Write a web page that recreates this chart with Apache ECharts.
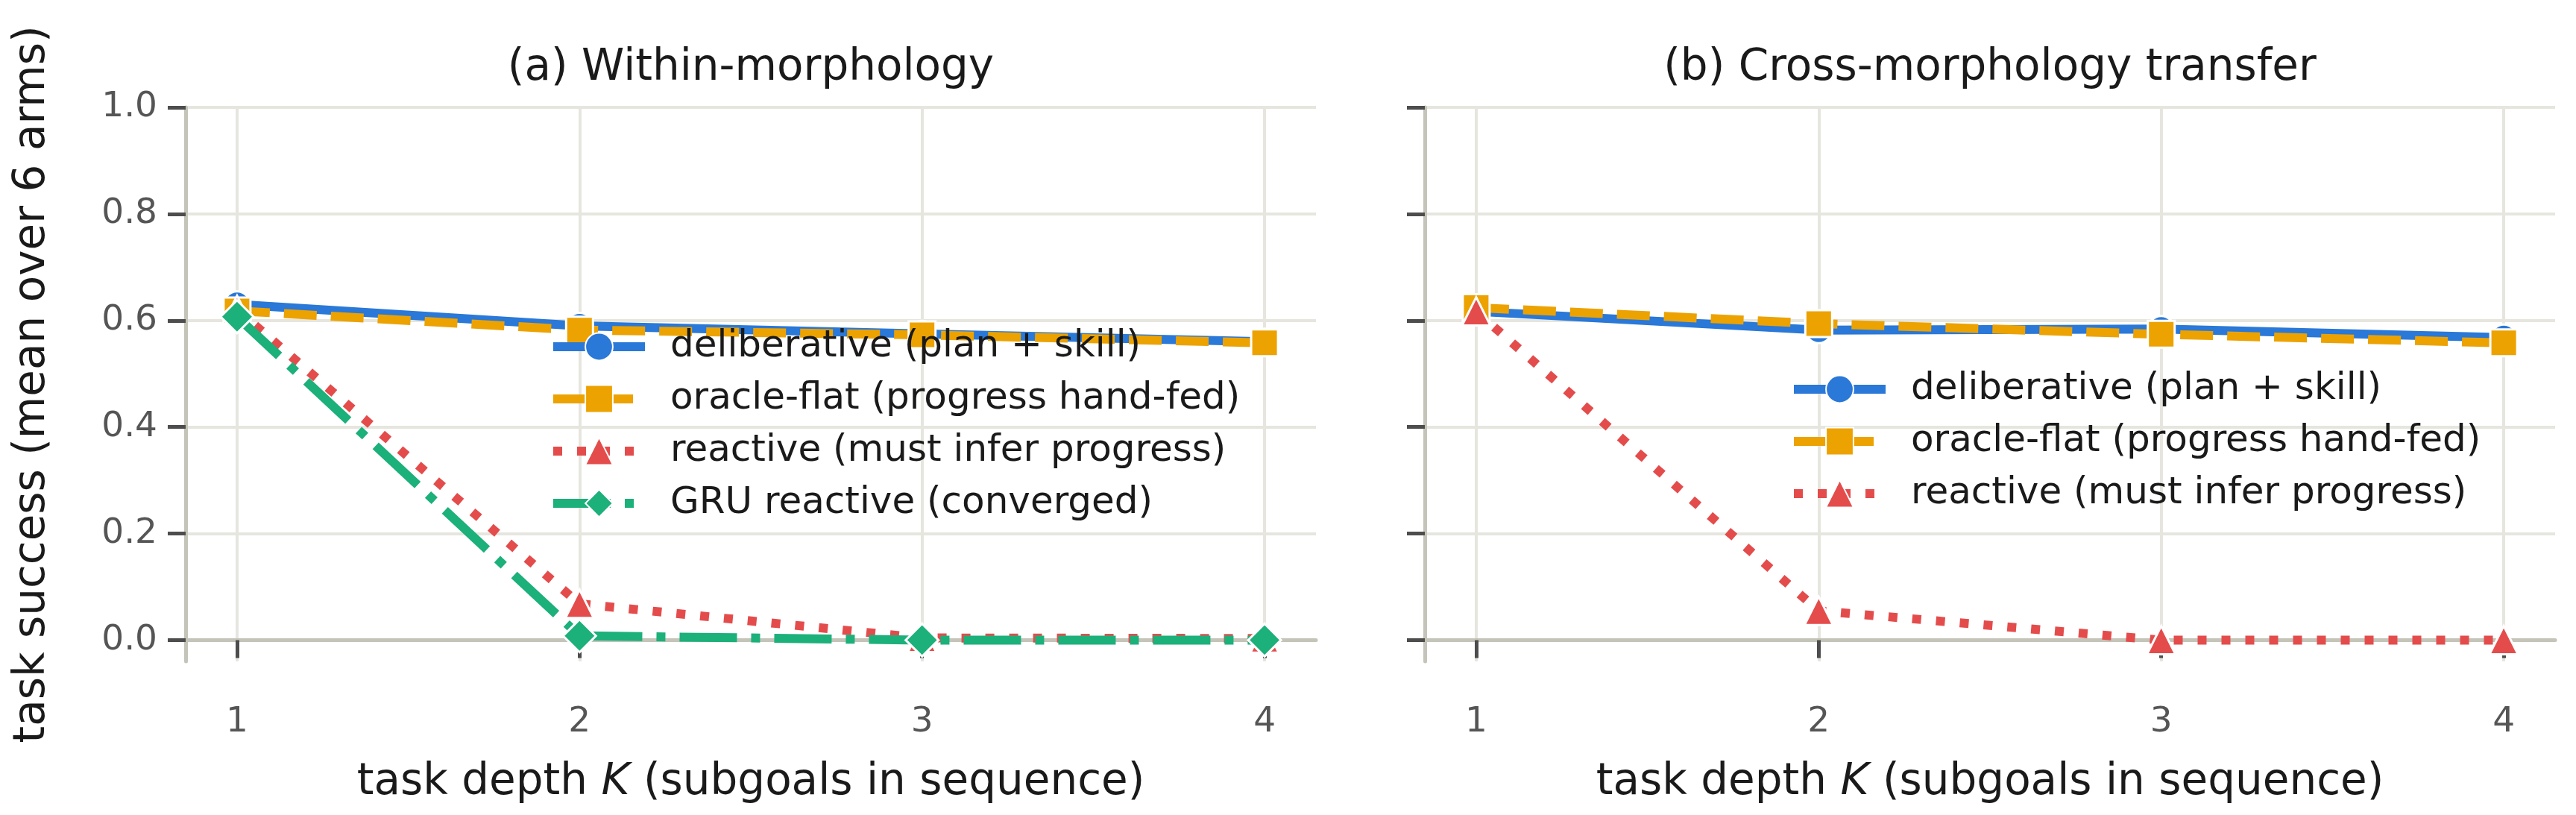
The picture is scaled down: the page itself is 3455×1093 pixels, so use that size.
<!DOCTYPE html>
<html>
<head>
<meta charset="utf-8">
<script src="https://cdn.jsdelivr.net/npm/echarts@6/dist/echarts.min.js"></script>
<style>
  html, body { margin: 0; padding: 0; background: #ffffff; }
  #chart { width: 3455px; height: 1093px; }
</style>
</head>
<body>
<div id="chart"></div>
<script>
// ---- data ----
const K = [1, 2, 3, 4];
const xTicks = [1, 2, 3, 4];
const yTicks = [0.0, 0.2, 0.4, 0.6, 0.8, 1.0];

// (a) Within-morphology
const deliberativeA = [0.630, 0.590, 0.575, 0.560];
const oracleA       = [0.618, 0.582, 0.573, 0.558];
const reactiveA     = [0.620, 0.068, 0.004, 0.003];
const gruA          = [0.607, 0.008, 0.000, 0.000];

// (b) Cross-morphology transfer
const deliberativeB = [0.617, 0.582, 0.584, 0.568];
const oracleB       = [0.624, 0.594, 0.574, 0.558];
const reactiveB     = [0.617, 0.055, 0.000, 0.000];

const titles = ['(a) Within-morphology', '(b) Cross-morphology transfer'];
const names = {
  del: 'deliberative (plan + skill)',
  ora: 'oracle-flat (progress hand-fed)',
  rea: 'reactive (must infer progress)',
  gru: 'GRU reactive (converged)'
};

// ---- styling ----
const FONT = 'DejaVu Sans';
const C = { del: '#2a78d7', ora: '#eca200', rea: '#e44c4c', gru: '#1cb07a' };
const LW = 12;
const spine = '#c4c4b8';
const gridCol = '#e6e6df';
const tickCol = '#4d4d4d';

const pts = (vals) => K.map((k, i) => [k, vals[i]]);

const SPEC = {
  del: { sym: 'circle', size: 35, dash: 'solid', z: 2 },
  ora: { sym: 'rect', size: 36, dash: [44, 19], z: 3 },
  rea: { sym: 'triangle', size: 38, dash: [12, 20], z: 4 },
  gru: { sym: 'diamond', size: 44, dash: [77, 19, 12, 19], z: 5 }
};

function mkSeries(key, vals, gi) {
  const spec = SPEC[key];
  return {
    name: names[key],
    type: 'line',
    xAxisIndex: gi, yAxisIndex: gi,
    data: pts(vals),
    symbol: spec.sym,
    symbolSize: spec.size,
    showAllSymbol: true,
    lineStyle: { color: C[key], width: LW, type: spec.dash, cap: 'butt' },
    itemStyle: { color: C[key], borderColor: '#ffffff', borderWidth: 3 },
    emphasis: { disabled: true },
    z: spec.z
  };
}

const grids = [
  { left: 249, top: 144, width: 1516, height: 743 },
  { left: 1911, top: 144, width: 1516, height: 743 }
];

function xAxis(gi) {
  return {
    type: 'value', gridIndex: gi, min: 0.85, max: 4.15,
    name: '{a|task depth }{b|K}{a| (subgoals in sequence)}',
    nameLocation: 'middle', nameGap: 134,
    nameTextStyle: {
      rich: {
        a: { fontFamily: FONT, fontSize: 58, color: '#1a1a1a' },
        b: { fontFamily: FONT, fontSize: 58, color: '#1a1a1a', fontStyle: 'italic' }
      }
    },
    axisLine: { show: true, lineStyle: { color: spine, width: 5 } },
    axisTick: { show: true, customValues: xTicks, length: 24, lineStyle: { color: tickCol, width: 5 } },
    axisLabel: { show: true, customValues: xTicks, margin: 58, fontFamily: FONT, fontSize: 47, color: '#555555',
      formatter: (v) => String(v) },
    splitLine: { show: true, lineStyle: { color: gridCol, width: 4 } }
  };
}

function yAxis(gi) {
  return {
    type: 'value', gridIndex: gi, min: -0.04, max: 1.0,
    name: gi === 0 ? 'task success (mean over 6 arms)' : '',
    nameLocation: 'middle', nameGap: 176,
    nameTextStyle: { fontFamily: FONT, fontSize: 58, color: '#1a1a1a' },
    axisLine: { show: true, lineStyle: { color: spine, width: 5 } },
    axisTick: { show: true, customValues: yTicks, length: 24, lineStyle: { color: tickCol, width: 5 } },
    axisLabel: { show: gi === 0, customValues: yTicks, margin: 38, fontFamily: FONT, fontSize: 47, color: '#555555',
      formatter: (v) => v.toFixed(1) },
    splitLine: { show: true, lineStyle: { color: gridCol, width: 4 } }
  };
}

const legendBase = {
  orient: 'vertical', padding: 0, itemWidth: 123, itemHeight: 46, itemGap: 20,
  selectedMode: false,
  lineStyle: { width: 'inherit', type: 'inherit', cap: 'butt' },
  textStyle: { fontFamily: FONT, fontSize: 50, lineHeight: 50, color: '#1a1a1a', padding: [0, 0, 0, 29] }
};

const option = {
  animation: false,
  backgroundColor: '#ffffff',
  title: [
    { text: titles[0], left: 1007, top: 63, textAlign: 'center', padding: 0,
      textStyle: { fontFamily: FONT, fontSize: 58, fontWeight: 'normal', color: '#1a1a1a' } },
    { text: titles[1], left: 2669, top: 63, textAlign: 'center', padding: 0,
      textStyle: { fontFamily: FONT, fontSize: 58, fontWeight: 'normal', color: '#1a1a1a' } }
  ],
  legend: [
    Object.assign({}, legendBase, { left: 736, top: 440, data: [names.del, names.ora, names.rea, names.gru] }),
    Object.assign({}, legendBase, { left: 2400, top: 497, data: [names.del, names.ora, names.rea] })
  ],
  grid: grids,
  xAxis: [xAxis(0), xAxis(1)],
  yAxis: [yAxis(0), yAxis(1)],
  series: [
    mkSeries('del', deliberativeA, 0),
    mkSeries('ora', oracleA, 0),
    mkSeries('rea', reactiveA, 0),
    mkSeries('gru', gruA, 0),
    mkSeries('del', deliberativeB, 1),
    mkSeries('ora', oracleB, 1),
    mkSeries('rea', reactiveB, 1)
  ]
};

const chart = echarts.init(document.getElementById('chart'), null, { renderer: 'canvas' });
chart.setOption(option);
</script>
</body>
</html>
